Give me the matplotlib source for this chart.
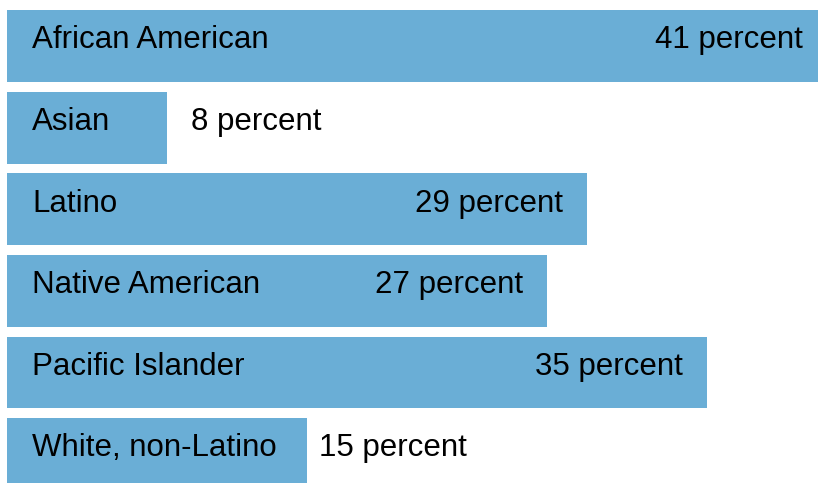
import matplotlib.pyplot as plt

plt.rcParams['font.family'] = ['Liberation Sans', 'DejaVu Sans']

# Data
groups = ["African American", "Asian", "Latino", "Native American",
          "Pacific Islander", "White, non-Latino"]
percents = [41, 8, 29, 27, 35, 15]
labels = [f"{p} percent" for p in percents]

bar_color = "#6aaed6"

fig = plt.figure(figsize=(8.18, 4.83), dpi=100)
ax = fig.add_axes([7 / 818, 0, 811 / 818, 1])

ypos = list(range(len(groups)))
ax.barh(ypos, percents, height=0.88, color=bar_color)

ax.set_xlim(0, 40.55)
ax.set_ylim(5.355, -0.564)
ax.axis("off")

# text sits a little above the bar centre
dy = -0.07
fs = 22.5
for y, name, v, lab in zip(ypos, groups, percents, labels):
    ax.text(1.25, y + dy, name, fontsize=fs, va="center", ha="left", color="black")
    if v >= 20:
        ax.text(v - 1.2, y + dy, lab, fontsize=fs, va="center", ha="right", color="black")
    else:
        gap = 1.2 if v < 10 else 0.6
        ax.text(v + gap, y + dy, lab, fontsize=fs, va="center", ha="left", color="black")

fig.savefig("out.png", dpi=100)
